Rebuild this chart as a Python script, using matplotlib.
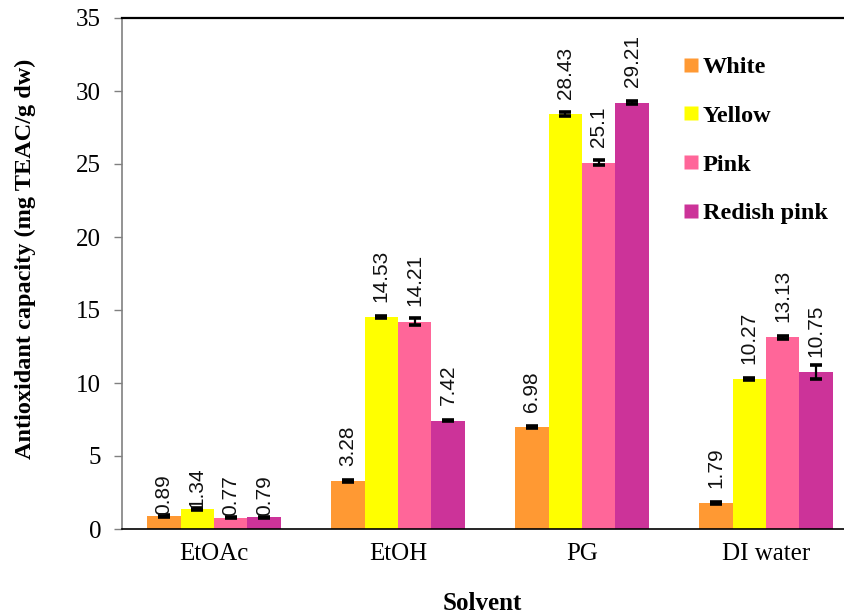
import matplotlib
matplotlib.use("Agg")
import matplotlib.pyplot as plt
import numpy as np
from matplotlib.lines import Line2D

solvents = ["EtOAc", "EtOH", "PG", "DI water"]
varieties = ["White", "Yellow", "Pink", "Redish pink"]
colors = ["#FF9933", "#FFFF00", "#FF6699", "#CC3399"]

# antioxidant capacity (mg TEAC/g dw), one list per flower colour, ordered by solvent
white = [0.89, 3.28, 6.98, 1.79]
yellow = [1.34, 14.53, 28.43, 10.27]
pink = [0.77, 14.21, 25.1, 13.13]
redish_pink = [0.79, 7.42, 29.21, 10.75]

# standard deviations
white_sd = [0.06, 0.08, 0.05, 0.06]
yellow_sd = [0.07, 0.05, 0.15, 0.04]
pink_sd = [0.05, 0.27, 0.15, 0.1]
redish_pink_sd = [0.06, 0.04, 0.12, 0.45]

series = [white, yellow, pink, redish_pink]
errors = [white_sd, yellow_sd, pink_sd, redish_pink_sd]

serif = "Liberation Serif"
sans = "Liberation Sans"

fig = plt.figure(figsize=(8.44, 6.16), dpi=100)
ax = fig.add_axes([122 / 844, 87 / 616, 736 / 844, 511 / 616])

x = np.arange(len(solvents))
bw = 0.182
# label gap above each bar, in points, per solvent group
label_gap = [1, 11, 11, 11]

for i, (vals, sds, col) in enumerate(zip(series, errors, colors)):
    pos = x + (i - 1.5) * bw
    ax.bar(pos, vals, width=bw, color=col, edgecolor="none", zorder=2)
    ax.errorbar(pos, vals, yerr=sds, fmt="none", ecolor="black",
                elinewidth=1.6, capsize=4.5, capthick=2.6, zorder=3)
    for j, (p, v) in enumerate(zip(pos, vals)):
        ax.annotate(f"{v:g}", xy=(p, v), xytext=(0, label_gap[j]),
                    textcoords="offset points", rotation=90,
                    ha="center", va="bottom", fontsize=15, family=sans,
                    color="#111111", zorder=4)

ax.set_xlim(-0.5, 3.5)
ax.set_ylim(0, 35)
ax.set_yticks(np.arange(0, 36, 5))
ax.set_xticks(x)
ax.set_xticklabels(solvents, family=serif, fontsize=18)
ax.tick_params(axis="x", length=0, pad=10)
ax.tick_params(axis="y", direction="out", length=6, width=1, color="#808080",
               pad=9, labelsize=18)
for lab in ax.get_yticklabels():
    lab.set_family(serif)

ax.spines["right"].set_visible(False)
ax.spines["left"].set_color("#808080")
ax.spines["left"].set_linewidth(1.2)
ax.spines["bottom"].set_color("black")
ax.spines["bottom"].set_linewidth(1.2)
ax.spines["top"].set_color("black")
ax.spines["top"].set_linewidth(1.6)

fig.text(482 / 844, 1 - 603 / 616, "Solvent", ha="center", va="center",
         family=serif, fontweight="bold", fontsize=18)
fig.text(25 / 844, 1 - 259 / 616, "Antioxidant capacity (mg TEAC/g dw)",
         ha="center", va="center", rotation=90, family=serif,
         fontweight="bold", fontsize=17.5)

handles = [Line2D([], [], marker="s", linestyle="none", markersize=9.5,
                  markerfacecolor=c, markeredgecolor="none") for c in colors]
leg = fig.legend(handles, varieties, loc="upper left",
                 bbox_to_anchor=(670 / 844, 1 - 44 / 616), frameon=False,
                 prop={"family": serif, "weight": "bold", "size": 17.5},
                 handlelength=0.7, handletextpad=0.15, labelspacing=1.1,
                 borderpad=0)

fig.savefig("out.png", dpi=100)
